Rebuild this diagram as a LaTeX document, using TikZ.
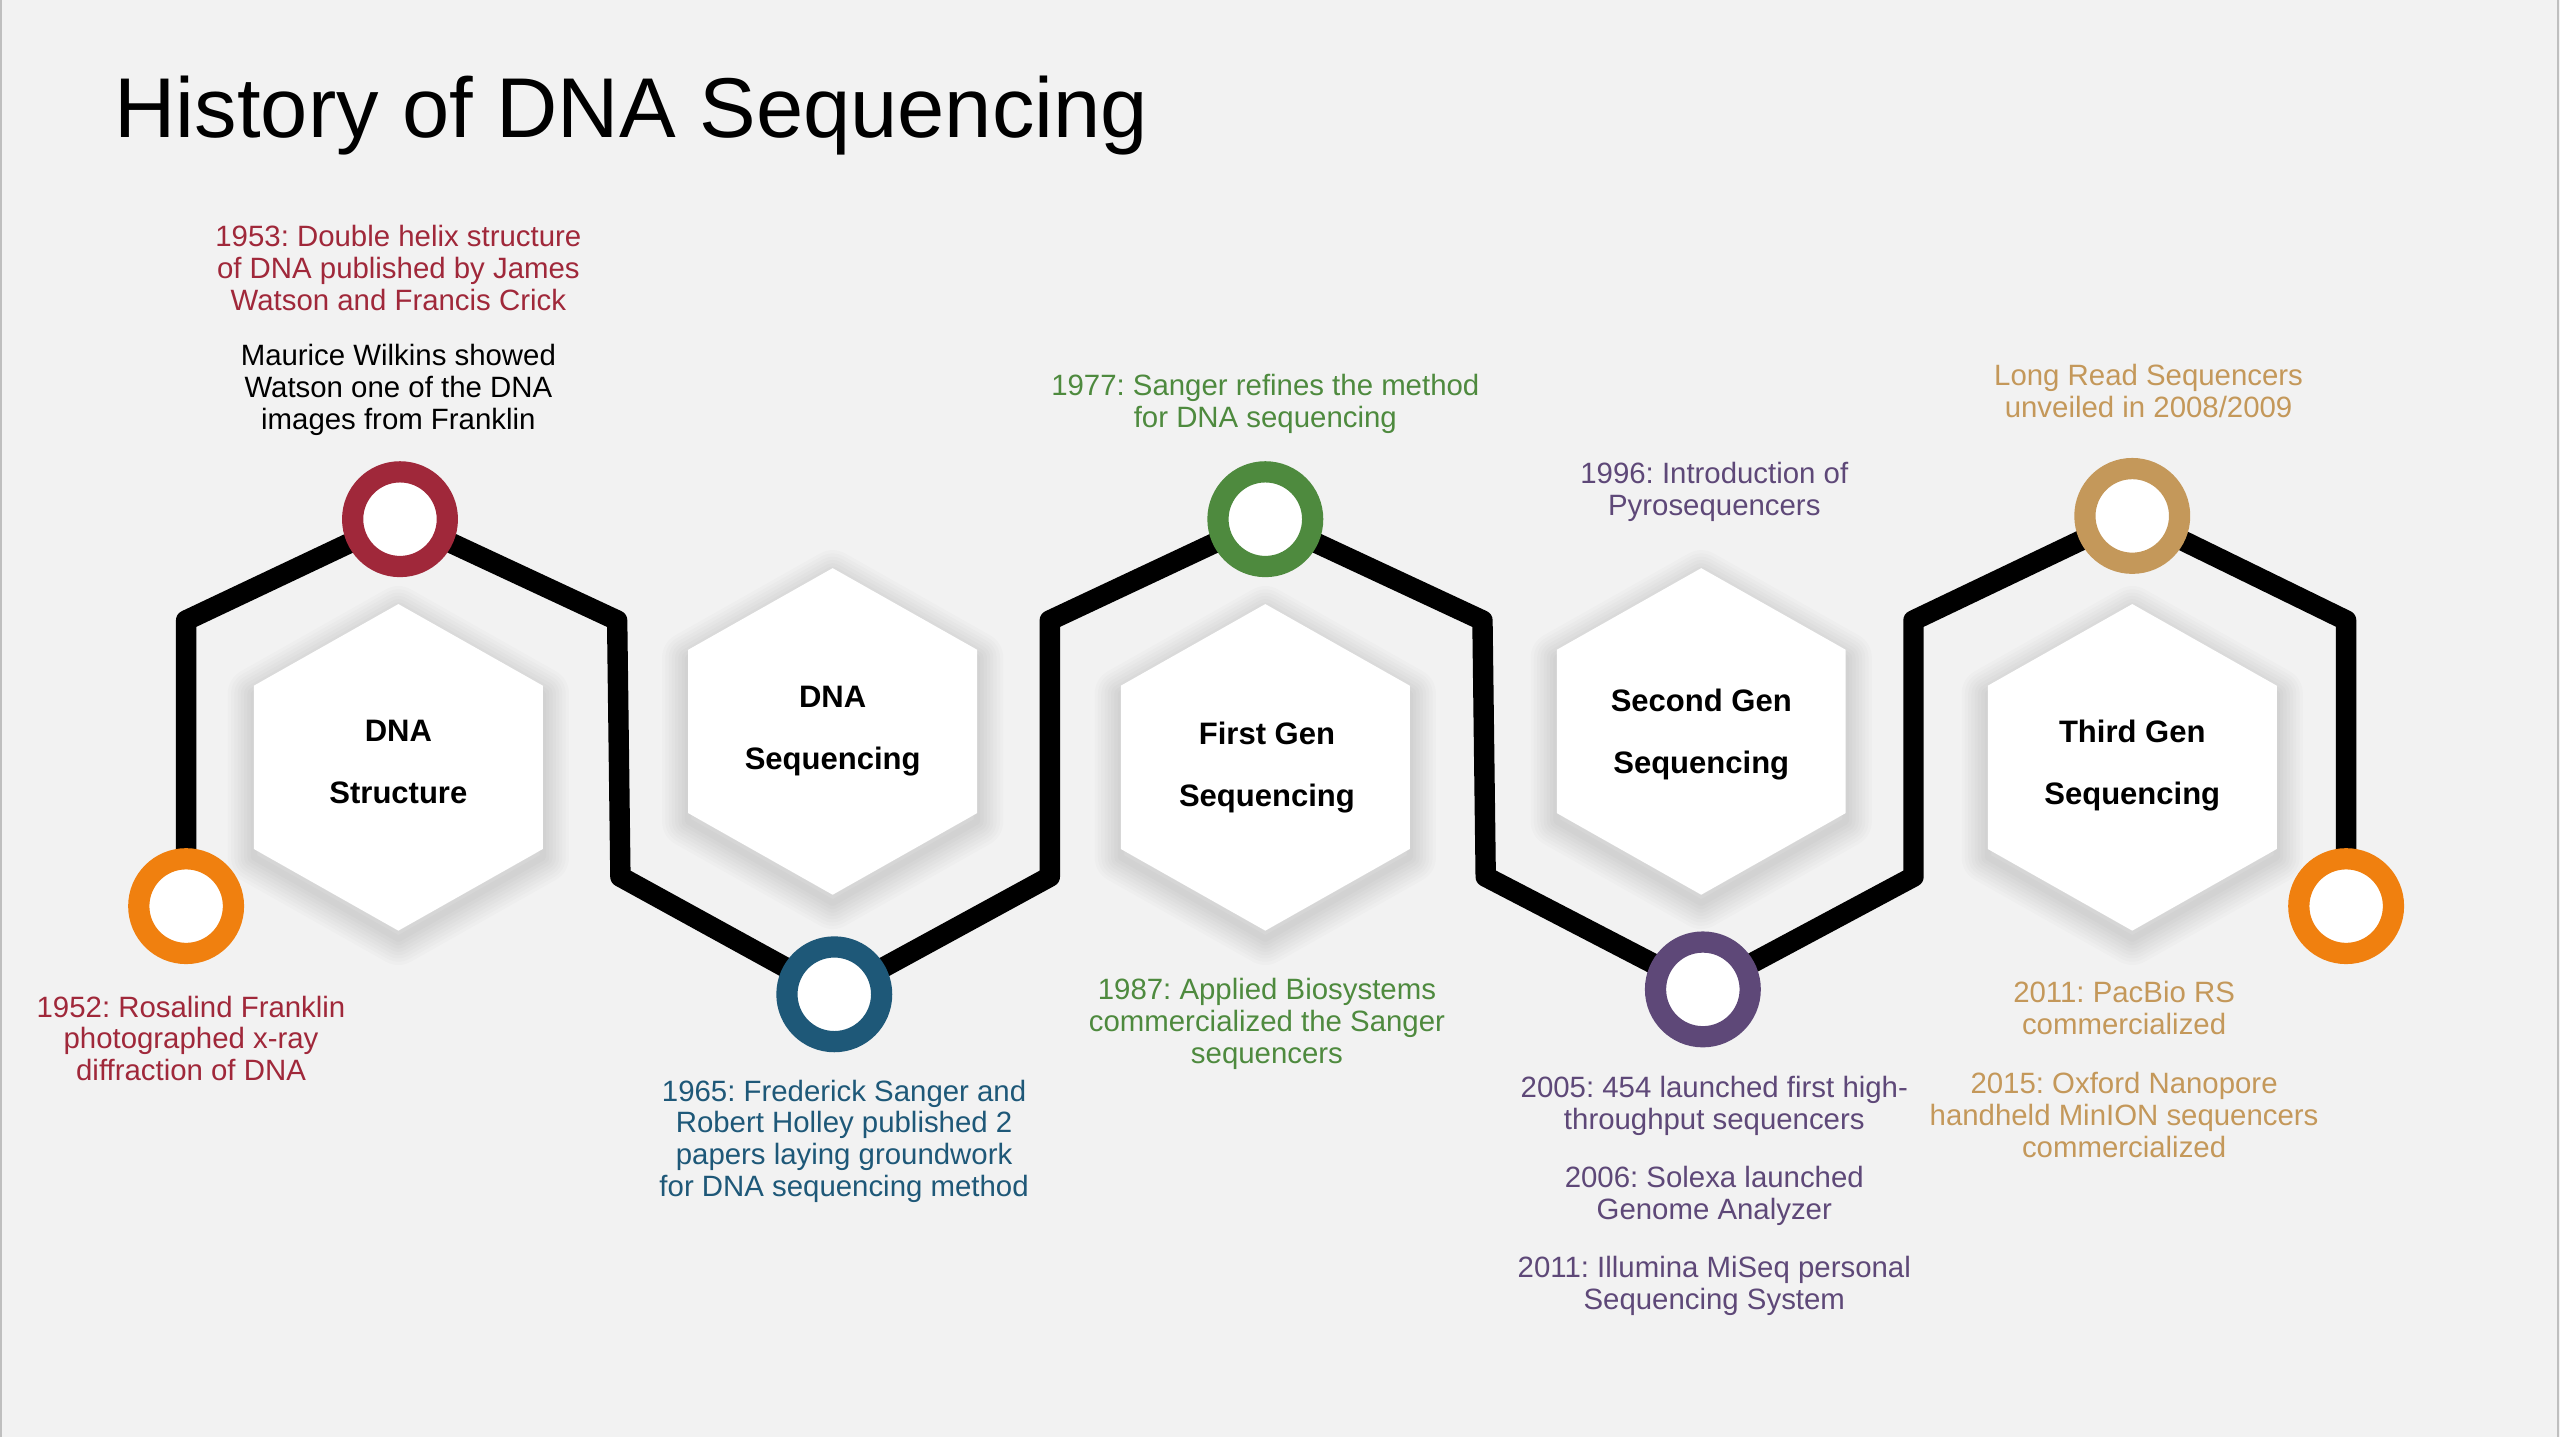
\documentclass[tikz,border=0pt]{standalone}
\usepackage{fontspec}
\setmainfont{Liberation Sans}
\frenchspacing
\definecolor{bg}{HTML}{F2F2F2}
\definecolor{cOrange}{HTML}{F0800F}
\definecolor{cRed}{HTML}{A0283A}
\definecolor{cBlue}{HTML}{1E5878}
\definecolor{cGreen}{HTML}{4E8A3E}
\definecolor{cPurple}{HTML}{5E4878}
\definecolor{cTan}{HTML}{C4985A}
\definecolor{edge}{HTML}{BFBFBF}
\tikzset{
  ring/.style={circle, draw=#1, fill=white, line width=13pt, minimum size=58pt, inner sep=0pt},
  track/.style={line width=12.5pt, black, line join=round},
  lbl/.style={align=center, inner sep=0pt, font=\fontsize{18}{19.5}\selectfont, text=#1},
  hexlbl/.style={align=center, inner sep=0pt, font=\bfseries\fontsize{19}{38}\selectfont},
}
\newcommand\hexagonat[2]{%
  \begin{scope}[shift={(#1,#2)}]
    \foreach \w in {32,28,...,4}
      \draw[black, opacity=0.015, line width=\w pt, line join=round]
        (0,-95) -- (88.5,-45) -- (88.5,55) -- (0,105) -- (-88.5,55) -- (-88.5,-45) -- cycle;
    \fill[white] (0,-100) -- (88.5,-50) -- (88.5,50) -- (0,100) -- (-88.5,50) -- (-88.5,-50) -- cycle;
  \end{scope}}
\begin{document}
\begin{tikzpicture}[x=1pt,y=-1pt]
\useasboundingbox (0,0) rectangle (1568,880);
\fill[bg] (0,0) rectangle (1568,880);
\draw[edge, line width=1.2pt] (0.6,0) -- (0.6,880);
\draw[edge, line width=1.2pt] (1566.8,0) -- (1566.8,880);

% title
\node[anchor=base west, inner sep=0pt, font=\fontsize{52}{60}\selectfont] (title) at (70,84) {History of DNA Sequencing};

% hexagons
\hexagonat{244}{470}
\hexagonat{510}{448}
\hexagonat{775}{470}
\hexagonat{1042}{448}
\hexagonat{1306}{470}

\node[hexlbl] (h1) at (244,467) {DNA\\Structure};
\node[hexlbl] (h2) at (510,448) {DNA\\Sequencing};
\node[hexlbl] (h3) at (776,470) {First Gen\\Sequencing};
\node[hexlbl] (h4) at (1042,450) {Second Gen\\Sequencing};
\node[hexlbl] (h5) at (1306,469) {Third Gen\\Sequencing};

% track coordinates
\coordinate (k1) at (114,555);
\coordinate (p1) at (114,380);
\coordinate (k2) at (245,318);
\coordinate (p2) at (378,380);
\coordinate (p3) at (380,537);
\coordinate (k3) at (511,609);
\coordinate (p4) at (643,537);
\coordinate (p5) at (643,380);
\coordinate (k4) at (775,318);
\coordinate (p6) at (908,380);
\coordinate (p7) at (910,537);
\coordinate (k5) at (1043,606);
\coordinate (p8) at (1172,537);
\coordinate (p9) at (1172,380);
\coordinate (k6) at (1306,316);
\coordinate (p10) at (1437,380);
\coordinate (k7) at (1437,555);

\draw[track] (k1) -- (p1) -- (k2) -- (p2) -- (p3) -- (k3) -- (p4) -- (p5) -- (k4)
  -- (p6) -- (p7) -- (k5) -- (p8) -- (p9) -- (k6) -- (p10) -- (k7);

\node[ring=cOrange] (c1) at (k1) {};
\node[ring=cRed] (c2) at (k2) {};
\node[ring=cBlue] (c3) at (k3) {};
\node[ring=cGreen] (c4) at (k4) {};
\node[ring=cPurple] (c5) at (k5) {};
\node[ring=cTan] (c6) at (k6) {};
\node[ring=cOrange] (c7) at (k7) {};

% labels
\node[lbl=cRed] (t1) at (244,164) {1953: Double helix structure\\of DNA published by James\\Watson and Francis Crick};
\node[lbl=black] (t2) at (244,239) {Maurice Wilkins showed\\Watson one of the DNA\\images from Franklin};
\node[lbl=cRed] (t3) at (117,636) {1952: Rosalind Franklin\\photographed x-ray\\diffraction of DNA};
\node[lbl=cBlue] (t4) at (517,699) {1965: Frederick Sanger and\\Robert Holley published 2\\papers laying groundwork\\for DNA sequencing method};
\node[lbl=cGreen] (t5) at (775,247.5) {1977: Sanger refines the method\\for DNA sequencing};
\node[lbl=cGreen] (t6) at (776,627) {1987: Applied Biosystems\\commercialized the Sanger\\sequencers};
\node[lbl=cPurple] (t7) at (1050,301.5) {1996: Introduction of\\Pyrosequencers};
\node[lbl=cPurple] (t8) at (1050,677.5) {2005: 454 launched first high-\\throughput sequencers};
\node[lbl=cPurple] (t9) at (1050,732.5) {2006: Solexa launched\\Genome Analyzer};
\node[lbl=cPurple] (t10) at (1050,787.5) {2011: Illumina MiSeq personal\\Sequencing System};
\node[lbl=cTan] (t11) at (1316,239.5) {Long Read Sequencers\\unveiled in 2008/2009};
\node[lbl=cTan] (t12) at (1301,617.5) {2011: PacBio RS\\commercialized};
\node[lbl=cTan] (t13) at (1301,683) {2015: Oxford Nanopore\\handheld MinION sequencers\\commercialized};
\end{tikzpicture}
\end{document}
